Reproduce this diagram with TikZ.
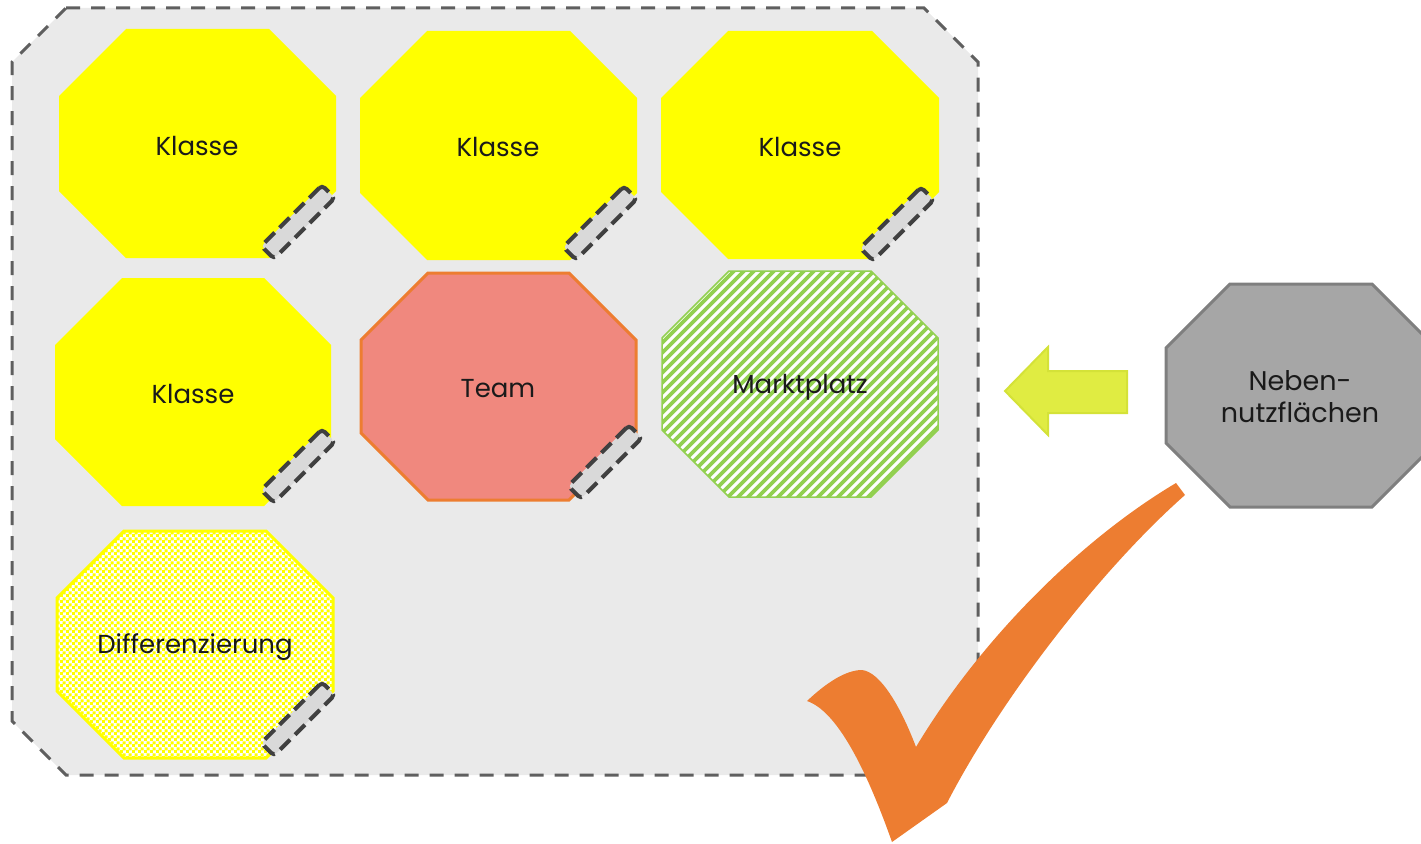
\documentclass[tikz,border=0pt]{standalone}
\usepackage{fontspec}
\setmainfont{Poppins}
\usetikzlibrary{patterns}

\definecolor{framefill}{HTML}{EAEAEA}
\definecolor{framedash}{HTML}{5F5F5F}
\definecolor{roomyellow}{HTML}{FFFF00}
\definecolor{teamfill}{RGB}{240,136,126}
\definecolor{teamline}{HTML}{ED7D31}
\definecolor{marketgreen}{HTML}{92D050}
\definecolor{doorline}{HTML}{404040}
\definecolor{doorfill}{HTML}{D9D9D9}
\definecolor{arrowfill}{RGB}{224,236,66}
\definecolor{arrowline}{RGB}{212,226,56}
\definecolor{sidefill}{HTML}{A6A6A6}
\definecolor{sideline}{HTML}{7F7F7F}
\definecolor{checkorange}{HTML}{ED7D31}
\definecolor{labeltext}{HTML}{1A1A1A}

% speckled fill for the differentiation room
\pgfdeclarepatternformonly{yellowspeckle}{\pgfqpoint{0pt}{0pt}}{\pgfqpoint{6pt}{6pt}}{\pgfqpoint{6pt}{6pt}}{%
  \pgfpathrectangle{\pgfqpoint{0pt}{0pt}}{\pgfqpoint{3.4pt}{3.4pt}}%
  \pgfpathrectangle{\pgfqpoint{3pt}{3pt}}{\pgfqpoint{3.4pt}{3.4pt}}%
  \pgfusepath{fill}%
}

% octagon with cut corners: options, left, top, right, bottom, cut
\newcommand{\octagonat}[6]{%
  \path[#1] (#2+#6,#3) -- (#4-#6,#3) -- (#4,#3+#6) -- (#4,#5-#6)
    -- (#4-#6,#5) -- (#2+#6,#5) -- (#2,#5-#6) -- (#2,#3+#6) -- cycle;}

\tikzset{
  lbl/.style={font=\fontsize{26}{30}\selectfont, text=labeltext, anchor=base, inner sep=0pt},
  doorsym/.style={draw=doorline, fill=doorfill, line width=4pt,
    dash pattern=on 14pt off 7pt, rounded corners=4pt,
    minimum width=86pt, minimum height=18pt, rotate=45, inner sep=0pt},
}

\begin{document}
\begin{tikzpicture}[x=1pt,y=-1pt]
\useasboundingbox (0,0) rectangle (1421,843);

% school cluster outline
\octagonat{fill=framefill, draw=framedash, line width=3pt, dash pattern=on 14pt off 11pt}{12}{8}{978}{775}{54}

% classrooms
\octagonat{fill=roomyellow}{59}{29}{336}{258}{67}
\octagonat{fill=roomyellow}{360}{31}{637}{260}{67}
\octagonat{fill=roomyellow}{661}{31}{939}{259}{67}
\octagonat{fill=roomyellow}{55}{278}{331}{506}{67}

% team room
\octagonat{fill=teamfill, draw=teamline, line width=3pt}{361}{273}{636}{500}{67}

% market place with diagonal stripes
\octagonat{fill=white}{662}{271}{938}{497}{67}
\begin{scope}
  \octagonat{clip}{662}{271}{938}{497}{67}
  \foreach \c in {925,935,...,1445}
    \draw[marketgreen, line width=3.8pt] (\c-260,260) -- (\c-510,510);
\end{scope}
\octagonat{draw=marketgreen, line width=1.5pt}{662}{271}{938}{497}{67}

% differentiation room
\octagonat{fill=white}{57}{531}{333}{758}{67}
\octagonat{pattern=yellowspeckle, pattern color=roomyellow}{57}{531}{333}{758}{67}
\octagonat{draw=roomyellow, line width=3pt}{57}{531}{333}{758}{67}

% room labels
\node[lbl] (k1) at (197,155) {Klasse};
\node[lbl] (k2) at (498,156) {Klasse};
\node[lbl] (k3) at (800,156) {Klasse};
\node[lbl] (k4) at (193,403) {Klasse};
\node[lbl] (team) at (498,397) {Team};
\node[lbl] (markt) at (800,393) {Marktplatz};
\node[lbl] (diff) at (195,653) {Differenzierung};

% doors
\node[doorsym] (d1) at (298,222) {};
\node[doorsym] (d2) at (600,223) {};
\node[doorsym] (d3) at (897,224) {};
\node[doorsym] (d4) at (298,466) {};
\node[doorsym] (d5) at (605,462) {};
\node[doorsym] (d6) at (298,719) {};

% incoming arrow
\filldraw[fill=arrowfill, draw=arrowline, line width=2pt, line join=miter]
  (1005,391) -- (1048,347) -- (1048,371) -- (1127,371) -- (1127,413)
  -- (1048,413) -- (1048,435) -- cycle;

% ancillary spaces
\octagonat{fill=sidefill, draw=sideline, line width=3pt}{1166}{284}{1436}{507}{64}
\node[font=\fontsize{27}{32}\selectfont, text=labeltext, align=center, inner sep=0pt]
  (neben) at (1300,397) {Neben-\\nutzflächen};

% check mark
\fill[checkorange]
  (807,701) .. controls (825,684) and (845,670) .. (862,670)
  .. controls (880,672) and (900,705) .. (916,747)
  .. controls (980,640) and (1080,540) .. (1176,483)
  -- (1185,495)
  .. controls (1100,570) and (1000,700) .. (947,803)
  -- (892,842)
  .. controls (870,780) and (840,712) .. (807,701) -- cycle;
\end{tikzpicture}
\end{document}
